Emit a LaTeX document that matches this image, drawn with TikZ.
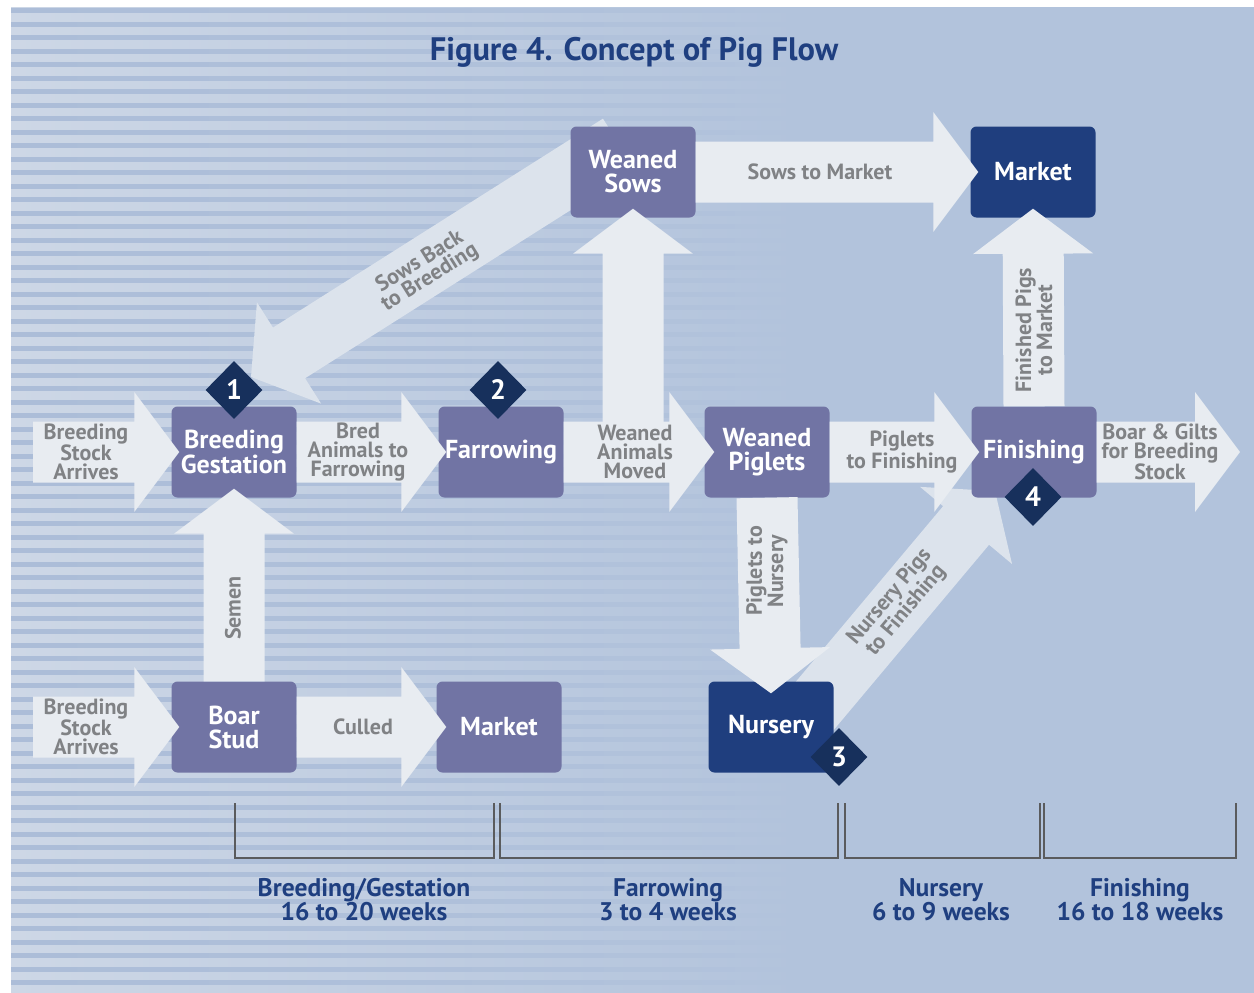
\documentclass[tikz,border=0pt]{standalone}
\usepackage{fontspec}
\setmainfont{PT Sans}
\usepackage{xcolor}
\usetikzlibrary{calc,
                shapes.geometric}
\definecolor{bgleft}{RGB}{205,215,230}
\definecolor{bgright}{RGB}{178,195,220}
\definecolor{stripe}{RGB}{172,189,216}
\definecolor{stagefill}{RGB}{113,116,164}
\definecolor{navybox}{RGB}{31,62,126}
\definecolor{navymark}{RGB}{23,48,92}
\definecolor{flowfill}{RGB}{232,236,241}
\definecolor{flowdiag}{RGB}{220,227,236}
\definecolor{flowtext}{RGB}{128,130,133}
\definecolor{titleblue}{RGB}{31,63,128}
\definecolor{bracketgray}{RGB}{90,91,93}

\begin{document}
\begin{tikzpicture}[x=1pt,y=-1pt]
                % define styles
\tikzset{stage/.style={rectangle,
                       rounded corners=6pt,
                       fill=stagefill,
                       minimum width=125pt,
                       minimum height=91pt,
                       inner sep=0,
                       },
         exit/.style={stage,
                       fill=navybox,
                       },
         stagetext/.style={text=white,
                       align=center,
                       inner sep=0,
                       font=\fontsize{26}{24}\selectfont\bfseries,
                       },
         marker/.style={diamond,
                       fill=navymark,
                       text=white,
                       minimum width=57pt,
                       minimum height=58pt,
                       inner sep=0,
                       font=\fontsize{28}{28}\selectfont\bfseries,
                       },
         flowlabel/.style={text=flowtext,
                       align=center,
                       inner sep=0,
                       font=\fontsize{22}{19}\selectfont\bfseries,
                       },
         spanlabel/.style={text=titleblue,
                       align=center,
                       inner sep=0,
                       font=\fontsize{25.5}{24}\selectfont\bfseries,
                       },
         flow/.style={fill=flowfill},
         flowback/.style={fill=flowdiag},
         bracket/.style={draw=bracketgray, line width=2.5pt}
}

\useasboundingbox (0,0) rectangle (1254,993);

% background with fading stripes
\fill[white] (0,0) rectangle (1254,993);
\shade[left color=bgleft, right color=bgright] (11,7) rectangle (800,993);
\fill[bgright] (799,7) rectangle (1254,993);
\foreach \k in {0,...,72}
    \shade[left color=stripe, right color=bgright] (11,8.5+13.5*\k) rectangle (800,12.5+13.5*\k);

% title
\node[text=titleblue, font=\fontsize{32.5}{32}\selectfont\bfseries] (title) at (634,52) {Figure 4. Concept of Pig Flow};

% free ends of the diagonal arrows
\coordinate (back)   at (619,144);
\coordinate (back-t) at (251,377);
\coordinate (nur-s)  at (797,727);
\coordinate (nur-t)  at (995,491);

% diagonal arrows, under the boxes
\foreach \a/\b in {back/back-t, nur-s/nur-t}{
    \path ($(\b)!45pt!(\a)$) coordinate (h);
    \fill[flowback] ($(\a)!30pt!90:(\b)$) -- ($(h)!30pt!90:(\b)$) -- ($(h)!60pt!90:(\b)$) -- (\b)
        -- ($(h)!60pt!-90:(\b)$) -- ($(h)!30pt!-90:(\b)$) -- ($(\a)!30pt!-90:(\b)$) -- cycle;
}

% nodes
\node[stage] (bg)   at (234,452)  {};
\node[stage] (far)  at (501,452)  {};
\node[stage] (ws)   at (633,172)  {};
\node[exit]  (mkt)  at (1033,172) {};
\node[stage] (wp)   at (767,452)  {};
\node[stage] (fin)  at (1034,452) {};
\node[stage] (boar) at (234,727)  {};
\node[stage] (cull) at (499,727)  {};
\node[exit]  (nur)  at (771,727)  {};

% free ends and tips
\coordinate (in-top) at (33,452);
\coordinate (in-bot) at (33,727);
\coordinate (out)    at (1240,452);
\coordinate (split)  at (633,452);
\coordinate (t-bg)   at ([xshift=8pt]bg.west);
\coordinate (t-far)  at ([xshift=8pt]far.west);
\coordinate (t-wp)   at ([xshift=10pt]wp.west);
\coordinate (t-fin)  at ([xshift=8pt]fin.west);
\coordinate (t-mkt)  at ([xshift=8pt]mkt.west);
\coordinate (t-ws)   at ([yshift=9pt]ws.south);
\coordinate (t-mkt2) at ([yshift=9pt]mkt.south);
\coordinate (t-bg2)  at ([yshift=9pt]bg.south);
\coordinate (t-boar) at ([xshift=8pt]boar.west);
\coordinate (t-cull) at ([xshift=10pt]cull.west);
\coordinate (t-nur)  at ([yshift=-12pt]nur.north);

% straight arrows
\foreach \a/\b in {in-top/t-bg, bg.east/t-far, far.east/t-wp, wp.east/t-fin, fin.east/out,
                   ws.east/t-mkt, split/t-ws, fin.north/t-mkt2, boar.north/t-bg2,
                   in-bot/t-boar, boar.east/t-cull, wp.south/t-nur}{
    \path ($(\b)!45pt!(\a)$) coordinate (h);
    \fill[flow] ($(\a)!30.5pt!90:(\b)$) -- ($(h)!30.5pt!90:(\b)$) -- ($(h)!60pt!90:(\b)$) -- (\b)
        -- ($(h)!60pt!-90:(\b)$) -- ($(h)!30.5pt!-90:(\b)$) -- ($(\a)!30.5pt!-90:(\b)$) -- cycle;
}

% box texts
\node[stagetext] (bg-t)   at (bg)   {Breeding\\Gestation};
\node[stagetext] (far-t)  at (far)  {Farrowing};
\node[stagetext] (ws-t)   at (ws)   {Weaned\\Sows};
\node[stagetext] (mkt-t)  at (mkt)  {Market};
\node[stagetext] (wp-t)   at (wp)   {Weaned\\Piglets};
\node[stagetext] (fin-t)  at (fin)  {Finishing};
\node[stagetext] (boar-t) at (boar) {Boar\\Stud};
\node[stagetext] (cull-t) at (cull) {Market};
\node[stagetext] (nur-t)  at (nur)  {Nursery};

% labels
\node[flowlabel] (l-in1)  at (86,452)   {Breeding\\Stock\\Arrives};
\node[flowlabel] (l-in2)  at (86,727)   {Breeding\\Stock\\Arrives};
\node[flowlabel] (l-bred) at (358,452)  {Bred\\Animals to\\Farrowing};
\node[flowlabel] (l-wam)  at (635,452)  {Weaned\\Animals\\Moved};
\node[flowlabel] (l-ptf)  at (902,452)  {Piglets\\to Finishing};
\node[flowlabel] (l-out)  at (1160,452) {Boar \& Gilts\\for Breeding\\Stock};
\node[flowlabel] (l-stm)  at (820,172)  {Sows to Market};
\node[flowlabel] (l-cul)  at (363,727)  {Culled};
\node[flowlabel, rotate=90] (l-sem) at (233,608)  {Semen};
\node[flowlabel, rotate=90] (l-ptn) at (767,571)  {Piglets to\\Nursery};
\node[flowlabel, rotate=90] (l-fpm) at (1034,330) {Finished Pigs\\to Market};
\node[flowlabel, rotate=32] (l-sbb) at (425,270)  {Sows Back\\to Breeding};
\node[flowlabel, rotate=50] (l-npf) at (898,604)  {Nursery Pigs\\to Finishing};

% markers
\node[marker] (d1) at (234,390) {1};
\node[marker] (d2) at (498,390) {2};
\node[marker] (d3) at (839,757) {3};
\node[marker] (d4) at (1033,497) {4};

% time spans
\foreach \l/\r in {235/494, 500/838, 845/1040, 1044/1236}
    \draw[bracket] (\l,803) -- (\l,858) -- (\r,858) -- (\r,803);

\node[spanlabel] (s1) at (364,900)  {Breeding/Gestation\\16 to 20 weeks};
\node[spanlabel] (s2) at (668,900)  {Farrowing\\3 to 4 weeks};
\node[spanlabel] (s3) at (941,900)  {Nursery\\6 to 9 weeks};
\node[spanlabel] (s4) at (1140,900) {Finishing\\16 to 18 weeks};

\end{tikzpicture}
\end{document}
